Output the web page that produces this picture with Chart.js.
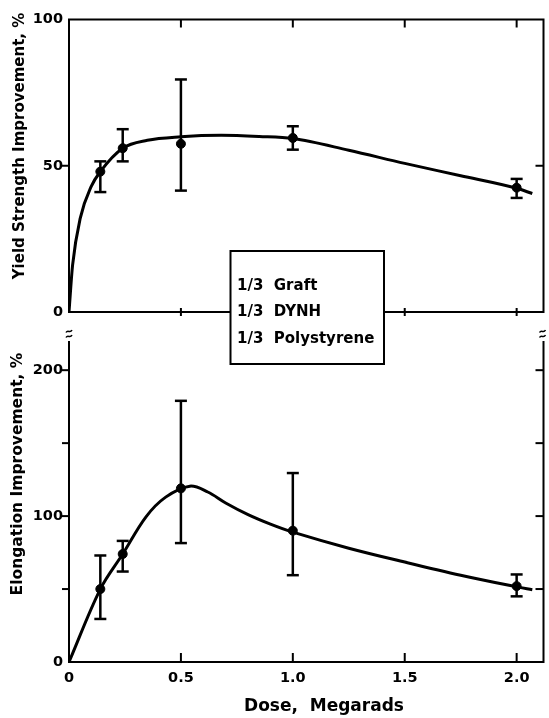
<!DOCTYPE html>
<html>
<head>
<meta charset="utf-8">
<script src="https://cdn.jsdelivr.net/npm/chart.js@4/dist/chart.umd.min.js"></script>
<style>
  html, body { margin: 0; padding: 0; background: #fff; }
  #wrap { position: relative; width: 549px; height: 718px; background: #fff; }
  canvas { position: absolute; left: 0; top: 0; }
</style>
</head>
<body>
<div id="wrap">
  <canvas id="bottom" width="549" height="718"></canvas>
  <canvas id="top" width="549" height="718"></canvas>
</div>
<script>
// ---- Data ----
const dose = [0.14, 0.24, 0.5, 1.0, 2.0];

const yieldMean = [48, 56, 57.5, 59.5, 42.5];
const yieldLow  = [41, 51.5, 41.5, 55.5, 39];
const yieldHigh = [51.5, 62.5, 79.5, 63.5, 45.5];

const elongMean = [50, 74, 119, 90, 52];
const elongLow  = [29.5, 62, 81.5, 59.5, 45];
const elongHigh = [73, 83, 179, 129.5, 60];

// Fitted curves
const yieldCurveX = [0, 0.016, 0.05, 0.1, 0.14, 0.24, 0.35, 0.5, 0.68, 0.85, 1.0, 1.25, 1.5, 1.75, 2.0, 2.07];
const yieldCurveY = [0, 16, 32, 43, 48, 56, 58.7, 59.9, 60.4, 60, 59.3, 55.3, 50.8, 46.6, 42.3, 40.5];

const elongCurveX = [0, 0.14, 0.24, 0.344, 0.432, 0.54, 0.62, 0.7, 0.8, 0.9, 1.0, 1.25, 1.5, 1.75, 2.0, 2.07];
const elongCurveY = [0, 50, 74, 99.5, 113, 120.5, 116.5, 109, 101, 94.5, 89, 78, 68.5, 59.5, 51.5, 49.5];

const xTicks = [0.5, 1.0, 1.5, 2.0];
const xLabelTicks = [0, 0.5, 1.0, 1.5, 2.0];
const yieldTicks = [0, 50, 100];
const elongTicks = [0, 100, 200];
const elongMinorTicks = [50, 100, 150, 200];

const legendLines = ['1/3  Graft', '1/3  DYNH', '1/3  Polystyrene'];
const yieldTitle = 'Yield Strength Improvement, %';
const elongTitle = 'Elongation Improvement, %';
const xTitle = 'Dose,  Megarads';

// ---- Helpers ----
const FONT = 'DejaVu Sans';
function pts(xs, ys) { return xs.map((x, i) => ({ x: x, y: ys[i] })); }
function line(ctx, x1, y1, x2, y2) { ctx.beginPath(); ctx.moveTo(x1, y1); ctx.lineTo(x2, y2); ctx.stroke(); }
function errorBars(ctx, xs, lo, hi, sx, sy) {
  ctx.lineWidth = 2.5;
  xs.forEach((v, i) => {
    const px = sx.getPixelForValue(v);
    const y1 = sy.getPixelForValue(lo[i]);
    const y2 = sy.getPixelForValue(hi[i]);
    line(ctx, px, y1, px, y2);
    line(ctx, px - 6, y1, px + 6, y1);
    line(ctx, px - 6, y2, px + 6, y2);
  });
}
function rotText(ctx, text, x, y, size) {
  ctx.save();
  ctx.translate(x, y);
  ctx.rotate(-Math.PI / 2);
  ctx.font = 'bold ' + size + 'px "' + FONT + '"';
  ctx.textAlign = 'center';
  ctx.textBaseline = 'middle';
  ctx.fillStyle = '#000';
  ctx.fillText(text, 0, 0);
  ctx.restore();
}
function breakMark(ctx, x, y) {
  ctx.lineWidth = 1.5;
  [y, y + 5].forEach(yy => {
    ctx.beginPath();
    ctx.moveTo(x - 3, yy + 1.5);
    ctx.bezierCurveTo(x - 1, yy - 2, x + 1, yy + 3, x + 3, yy - 1);
    ctx.stroke();
  });
}

const tickFont = { family: FONT, size: 14.5, weight: 'bold' };

// ---- Top panel plugin ----
const topDecor = {
  id: 'topDecor',
  afterDatasetsDraw(chart) {
    const { ctx, chartArea: a, scales: { x, y } } = chart;
    ctx.save();
    ctx.strokeStyle = '#000';
    ctx.fillStyle = '#000';
    ctx.lineWidth = 2;
    ctx.strokeRect(a.left, a.top, a.right - a.left, a.bottom - a.top);
    const y50 = y.getPixelForValue(50);
    line(ctx, a.left - 7, y50, a.left, y50);
    line(ctx, a.right - 8, y50, a.right, y50);
    xTicks.forEach(v => {
      const px = x.getPixelForValue(v);
      line(ctx, px, a.top, px, a.top + 8);
      line(ctx, px, a.bottom - 4, px, a.bottom + 4);
    });
    errorBars(ctx, dose, yieldLow, yieldHigh, x, y);
    rotText(ctx, yieldTitle, 20, 146, 15);
    // annotation box
    ctx.lineWidth = 2;
    ctx.fillStyle = '#fff';
    ctx.fillRect(230.5, 251, 153.5, 113);
    ctx.strokeRect(230.5, 251, 153.5, 113);
    ctx.fillStyle = '#000';
    ctx.font = 'bold 15px "' + FONT + '"';
    ctx.textAlign = 'left';
    ctx.textBaseline = 'middle';
    legendLines.forEach((t, i) => ctx.fillText(t, 237, 286 + i * 26.5));
    ctx.restore();
  }
};

// ---- Bottom panel plugin ----
const bottomDecor = {
  id: 'bottomDecor',
  afterDatasetsDraw(chart) {
    const { ctx, chartArea: a, scales: { x, y } } = chart;
    ctx.save();
    ctx.strokeStyle = '#000';
    ctx.fillStyle = '#000';
    ctx.lineWidth = 2;
    ctx.beginPath();
    ctx.moveTo(a.left, a.top); ctx.lineTo(a.left, a.bottom); ctx.lineTo(a.right, a.bottom); ctx.lineTo(a.right, a.top);
    ctx.stroke();
    elongMinorTicks.forEach(v => {
      const py = y.getPixelForValue(v);
      line(ctx, a.left - 7, py, a.left, py);
      line(ctx, a.right - 8, py, a.right, py);
    });
    xTicks.forEach(v => {
      const px = x.getPixelForValue(v);
      line(ctx, px, a.bottom, px, a.bottom - 9);
    });
    breakMark(ctx, a.left, a.top - 10);
    breakMark(ctx, a.right - 1, a.top - 10);
    errorBars(ctx, dose, elongLow, elongHigh, x, y);
    rotText(ctx, elongTitle, 18, 474, 15.5);
    ctx.font = 'bold 17px "' + FONT + '"';
    ctx.textAlign = 'center';
    ctx.textBaseline = 'middle';
    ctx.fillText(xTitle, 324, 707);
    ctx.restore();
  }
};

Chart.defaults.color = '#000';
Chart.defaults.font.family = FONT;

// ---- Top chart: yield strength ----
new Chart(document.getElementById('top'), {
  type: 'scatter',
  data: {
    datasets: [
      { type: 'line', data: pts(yieldCurveX, yieldCurveY), borderColor: '#000', borderWidth: 3,
        pointRadius: 0, cubicInterpolationMode: 'monotone', fill: false },
      { data: pts(dose, yieldMean), pointRadius: 4.5, backgroundColor: '#000', borderColor: '#000' }
    ]
  },
  options: {
    responsive: false, animation: false, devicePixelRatio: 1,
    layout: { padding: { left: 0, top: 19.5, right: 1, bottom: 406 } },
    plugins: { legend: { display: false }, tooltip: { enabled: false } },
    scales: {
      x: { type: 'linear', min: 0, max: 2.12, display: false },
      y: {
        min: 0, max: 100,
        afterBuildTicks(s) { s.ticks = yieldTicks.map(v => ({ value: v })); },
        ticks: { padding: 6, font: tickFont, color: '#000' },
        grid: { display: false, drawTicks: false },
        border: { display: false },
        afterFit(s) { s.width = 69; }
      }
    }
  },
  plugins: [topDecor]
});

// ---- Bottom chart: elongation ----
new Chart(document.getElementById('bottom'), {
  type: 'scatter',
  data: {
    datasets: [
      { type: 'line', data: pts(elongCurveX, elongCurveY), borderColor: '#000', borderWidth: 3,
        pointRadius: 0, tension: 0.35, fill: false },
      { data: pts(dose, elongMean), pointRadius: 4.5, backgroundColor: '#000', borderColor: '#000' }
    ]
  },
  options: {
    responsive: false, animation: false, devicePixelRatio: 1,
    layout: { padding: { left: 0, top: 341, right: 1, bottom: 0 } },
    plugins: { legend: { display: false }, tooltip: { enabled: false } },
    scales: {
      x: {
        type: 'linear', min: 0, max: 2.12,
        afterBuildTicks(s) { s.ticks = xLabelTicks.map(v => ({ value: v })); },
        ticks: { padding: 8, font: tickFont, color: '#000',
                 callback: v => v === 0 ? '0' : Number(v).toFixed(1), maxRotation: 0 },
        grid: { display: false, drawTicks: false },
        border: { display: false },
        afterFit(s) { s.height = 56; }
      },
      y: {
        min: 0, max: 220,
        afterBuildTicks(s) { s.ticks = elongTicks.map(v => ({ value: v })); },
        ticks: { padding: 6, font: tickFont, color: '#000' },
        grid: { display: false, drawTicks: false },
        border: { display: false },
        afterFit(s) { s.width = 69; }
      }
    }
  },
  plugins: [bottomDecor]
});
</script>
</body>
</html>
